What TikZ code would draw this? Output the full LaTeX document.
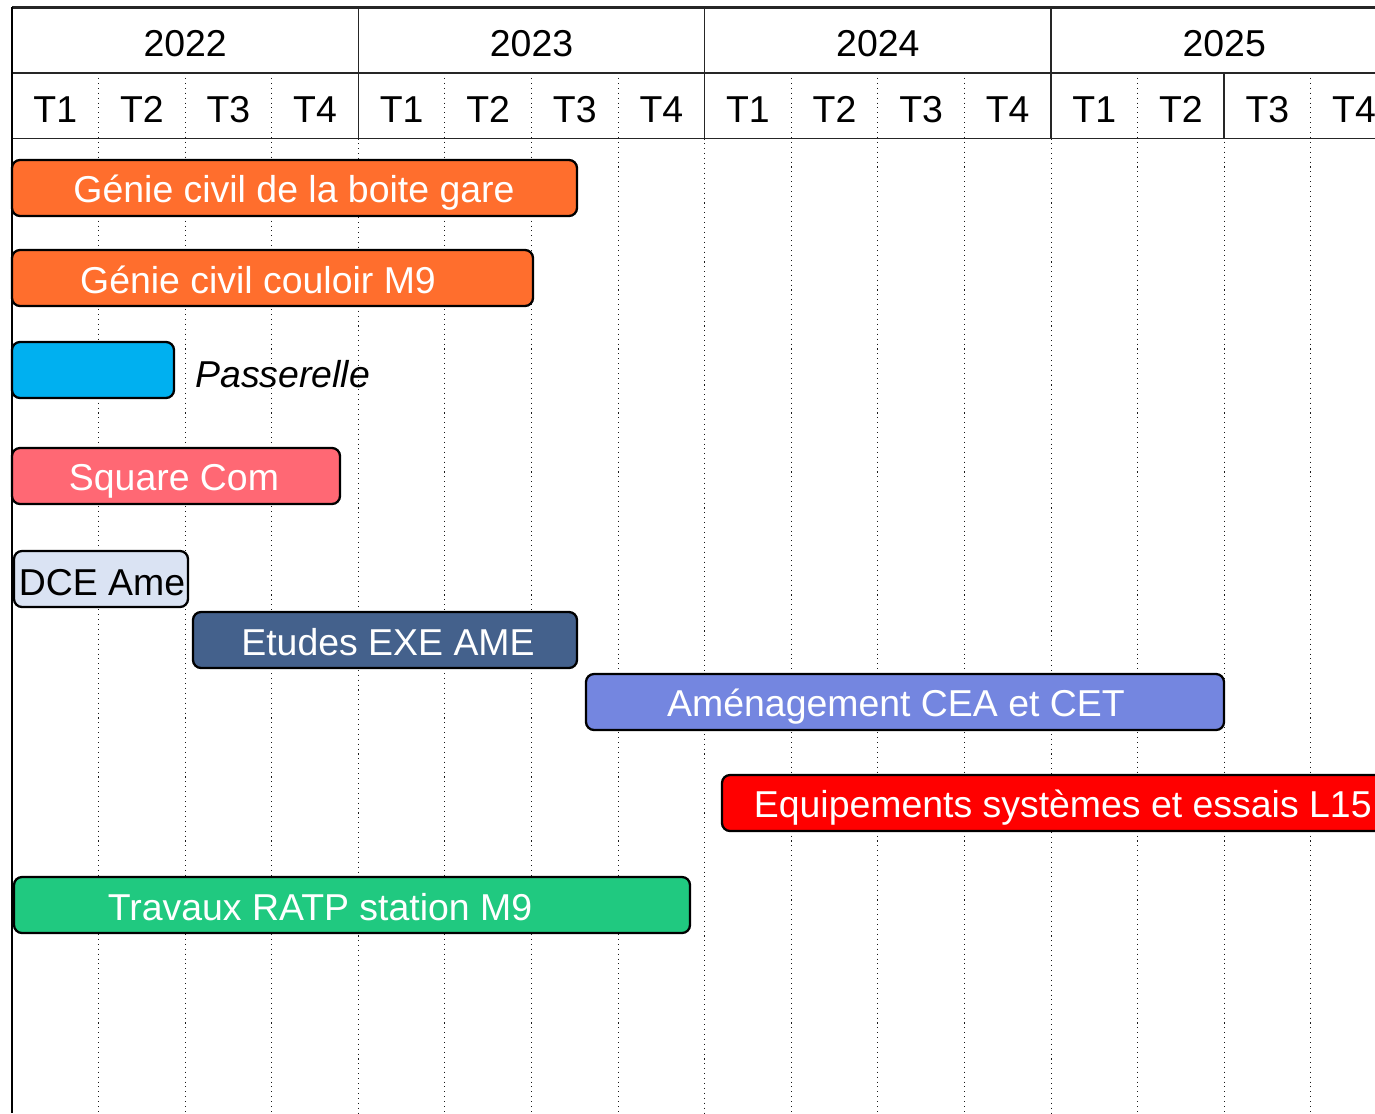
\documentclass[tikz,border=0pt]{standalone}
\usepackage{fontspec}
\setmainfont{Liberation Sans}

\definecolor{gareOrange}{RGB}{255,110,45}
\definecolor{passCyan}{RGB}{0,176,240}
\definecolor{squarePink}{RGB}{255,104,116}
\definecolor{dceBlue}{RGB}{218,227,243}
\definecolor{exeBlue}{RGB}{68,97,140}
\definecolor{ameViolet}{RGB}{116,134,224}
\definecolor{equipRed}{RGB}{255,0,0}
\definecolor{ratpGreen}{RGB}{32,201,128}

\tikzset{
    bar/.style={draw=black, line width=1.3pt, rounded corners=0.16cm},
    bartext/.style={anchor=base, inner sep=0pt, text=white, font=\fontsize{21.3}{25}\selectfont},
    headtext/.style={anchor=base, inner sep=0pt, font=\fontsize{21.3}{25}\selectfont},
    griddot/.style={black!90, line width=0.5pt, dash pattern=on 0.6pt off 2.2pt},
    headline/.style={black!85, line width=0.8pt},
}

\begin{document}
\begin{tikzpicture}[x=0.02cm, y=-0.02cm]
    \useasboundingbox (0,0) rectangle (1375,1113);
    \clip (0,0) rectangle (1375,1113);

    % Quarter grid
    \foreach \i in {1,2,3,5,6,7,9,10,11,13,14,15}
        \draw[griddot] ({12+86.58*\i},73) -- ({12+86.58*\i},1113);
    \foreach \i in {4,8,12}
        \draw[griddot] ({12+86.58*\i},138.5) -- ({12+86.58*\i},1113);

    % Header
    \draw[headline, line width=1.2pt] (12,7.5) -- (1375,7.5);
    \draw[headline] (12,73) -- (1375,73);
    \draw[headline] (12,138.5) -- (1375,138.5);
    \foreach \k in {1,2,3}
        \draw[headline] ({12+346.33*\k},7.5) -- ({12+346.33*\k},138.5);
    \draw[headline] (1224,73) -- (1224,138.5);
    \draw[line width=1.6pt] (12,7) -- (12,1113);

    \foreach \yr [count=\k from 0] in {2022,2023,2024,2025}
        \node[headtext] (y\yr) at ({185.2+346.33*\k},56) {\yr};
    \foreach \k in {0,...,3}
        \foreach \q in {1,...,4}
            \node[headtext] (q\k\q) at ({12+86.58*(4*\k+\q-0.5)},122.5) {T\q};

    % Tasks
    \draw[bar, fill=gareOrange] (12,160) rectangle (577,216);
    \node[bartext] (gare) at (294,202) {Génie civil de la boite gare};

    \draw[bar, fill=gareOrange] (12,250) rectangle (533,306);
    \node[bartext] (couloir) at (258,293) {Génie civil couloir M9};

    \draw[bar, fill=passCyan] (12,342) rectangle (174,398);
    \node[headtext, anchor=base west, font=\fontsize{21.3}{25}\selectfont\itshape] (passerelle) at (195,387) {Passerelle};

    \draw[bar, fill=squarePink] (12,448) rectangle (340,504);
    \node[bartext] (square) at (174,490) {Square Com};

    \draw[bar, fill=dceBlue] (14,551) rectangle (188,607);
    \node[bartext, text=black] (dce) at (102,595) {DCE Ame};

    \draw[bar, fill=exeBlue] (193,612) rectangle (577,668);
    \node[bartext] (exe) at (388,655) {Etudes EXE AME};

    \draw[bar, fill=ameViolet] (586,674) rectangle (1224,730);
    \node[bartext] (amenag) at (896,716) {Aménagement CEA et CET};

    \draw[bar, fill=equipRed] (722,775) rectangle (1420,831);
    \node[bartext, anchor=base east] (equip) at (1372,817) {Equipements systèmes et essais L15};

    \draw[bar, fill=ratpGreen] (14,877) rectangle (690,933);
    \node[bartext] (ratp) at (320,920) {Travaux RATP station M9};
\end{tikzpicture}
\end{document}
